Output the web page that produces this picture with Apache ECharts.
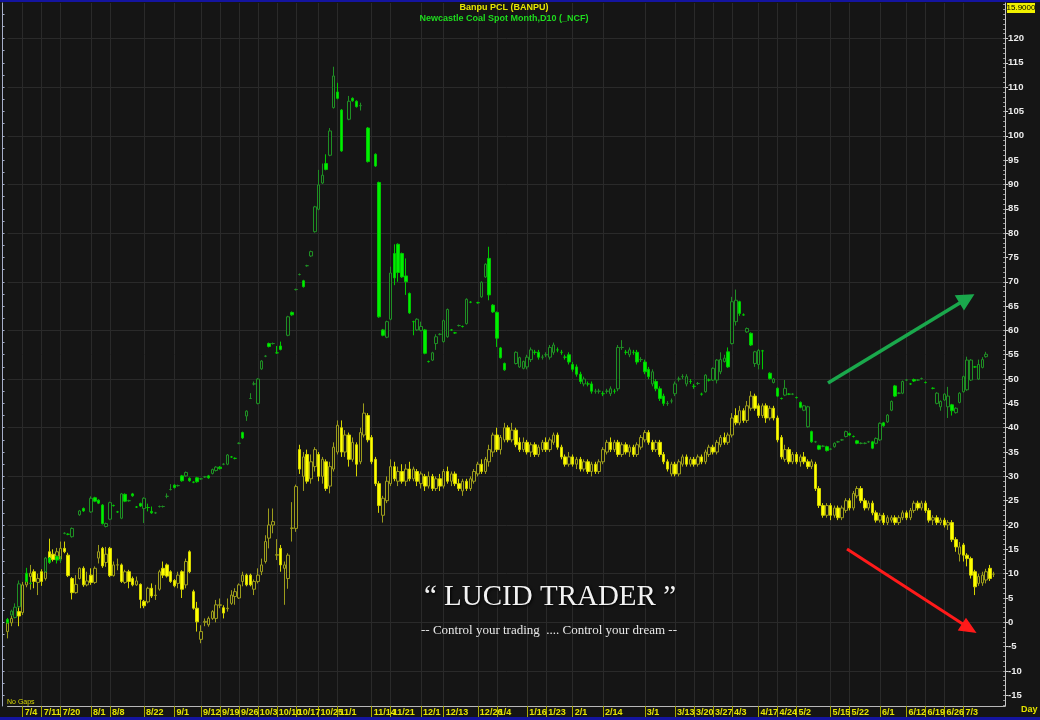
<!DOCTYPE html>
<html><head><meta charset="utf-8">
<script src="https://cdn.jsdelivr.net/npm/echarts@6/dist/echarts.min.js"></script>
<style>html,body{margin:0;padding:0;background:#151515;}#c{width:1040px;height:720px;}</style>
</head><body><div id="c"></div>
<script>
const dates = [
"2022-06-28","2022-06-29","2022-06-30","2022-07-01",
"2022-07-04","2022-07-05","2022-07-06","2022-07-07","2022-07-08",
"2022-07-11","2022-07-12","2022-07-15",
"2022-07-18","2022-07-19","2022-07-20","2022-07-21","2022-07-22",
"2022-07-25","2022-07-26","2022-07-27","2022-07-28","2022-07-29",
"2022-08-01","2022-08-02","2022-08-03","2022-08-04","2022-08-05",
"2022-08-08","2022-08-09","2022-08-10","2022-08-11",
"2022-08-15","2022-08-16","2022-08-17","2022-08-18","2022-08-19",
"2022-08-22","2022-08-23","2022-08-24","2022-08-25","2022-08-26",
"2022-08-29","2022-08-30","2022-08-31","2022-09-01","2022-09-02",
"2022-09-05","2022-09-06","2022-09-07","2022-09-08","2022-09-09",
"2022-09-12","2022-09-13","2022-09-14","2022-09-15","2022-09-16",
"2022-09-19","2022-09-20","2022-09-21","2022-09-22","2022-09-23",
"2022-09-26","2022-09-27","2022-09-28","2022-09-29","2022-09-30",
"2022-10-03","2022-10-04","2022-10-05","2022-10-06","2022-10-07",
"2022-10-10","2022-10-11","2022-10-12","2022-10-13","2022-10-14",
"2022-10-17","2022-10-18","2022-10-19","2022-10-20","2022-10-21",
"2022-10-24","2022-10-25","2022-10-26","2022-10-27","2022-10-28",
"2022-10-31","2022-11-01","2022-11-02","2022-11-03","2022-11-04",
"2022-11-07","2022-11-08","2022-11-09","2022-11-10","2022-11-11",
"2022-11-14","2022-11-15","2022-11-16","2022-11-17","2022-11-18",
"2022-11-21","2022-11-22","2022-11-23","2022-11-24","2022-11-25",
"2022-11-28","2022-11-29","2022-11-30","2022-12-01","2022-12-02",
"2022-12-06","2022-12-07","2022-12-08","2022-12-09",
"2022-12-13","2022-12-14","2022-12-15","2022-12-16",
"2022-12-19","2022-12-20","2022-12-21","2022-12-22","2022-12-23",
"2022-12-26","2022-12-27","2022-12-28","2022-12-29",
"2023-01-03","2023-01-04","2023-01-05","2023-01-06",
"2023-01-09","2023-01-10","2023-01-11","2023-01-12","2023-01-13",
"2023-01-16","2023-01-17","2023-01-18","2023-01-19","2023-01-20",
"2023-01-23","2023-01-24","2023-01-25","2023-01-26","2023-01-27",
"2023-01-30","2023-01-31","2023-02-01","2023-02-02","2023-02-03",
"2023-02-07","2023-02-08","2023-02-09","2023-02-10",
"2023-02-13","2023-02-14","2023-02-15","2023-02-16","2023-02-17",
"2023-02-20","2023-02-21","2023-02-22","2023-02-23","2023-02-24",
"2023-02-27","2023-02-28","2023-03-01","2023-03-02","2023-03-03",
"2023-03-06","2023-03-07","2023-03-08","2023-03-09","2023-03-10",
"2023-03-13","2023-03-14","2023-03-15","2023-03-16","2023-03-17",
"2023-03-20","2023-03-21","2023-03-22","2023-03-23","2023-03-24",
"2023-03-27","2023-03-28","2023-03-29","2023-03-30","2023-03-31",
"2023-04-03","2023-04-04","2023-04-05","2023-04-07",
"2023-04-10","2023-04-11","2023-04-12",
"2023-04-17","2023-04-18","2023-04-19","2023-04-20","2023-04-21",
"2023-04-24","2023-04-25","2023-04-26","2023-04-27","2023-04-28",
"2023-05-02","2023-05-03","2023-05-04","2023-05-05",
"2023-05-08","2023-05-09","2023-05-10","2023-05-11","2023-05-12",
"2023-05-15","2023-05-16","2023-05-17","2023-05-18","2023-05-19",
"2023-05-22","2023-05-23","2023-05-24","2023-05-25","2023-05-26",
"2023-05-29","2023-05-30","2023-05-31","2023-06-01","2023-06-02",
"2023-06-05","2023-06-06","2023-06-07","2023-06-08","2023-06-09",
"2023-06-12","2023-06-13","2023-06-14","2023-06-15","2023-06-16",
"2023-06-19","2023-06-20","2023-06-21","2023-06-22","2023-06-23",
"2023-06-26","2023-06-27","2023-06-28","2023-06-29","2023-06-30",
"2023-07-03","2023-07-04","2023-07-05","2023-07-06","2023-07-07",
"2023-07-10","2023-07-11","2023-07-12","2023-07-13","2023-07-14",
"2023-07-17","2023-07-18"
];

const tickDates = ["2022-07-04","2022-07-11","2022-07-20","2022-08-01","2022-08-08","2022-08-22","2022-09-01","2022-09-12","2022-09-19","2022-09-26","2022-10-03","2022-10-10","2022-10-17","2022-10-25","2022-11-01","2022-11-14","2022-11-21","2022-12-01","2022-12-13","2022-12-26","2023-01-04","2023-01-16","2023-01-23","2023-02-01","2023-02-14","2023-03-01","2023-03-13","2023-03-20","2023-03-27","2023-04-03","2023-04-17","2023-04-24","2023-05-02","2023-05-15","2023-05-22","2023-06-01","2023-06-12","2023-06-19","2023-06-26","2023-07-03"];

const yTickLabels = [-15,-10,-5,0,5,10,15,20,25,30,35,40,45,50,55,60,65,70,75,80,85,90,95,100,105,110,115,120];
const gridValues = [-10,0,10,20,30,40,50,60,70,80,90,100,110,120];

// Banpu PCL (BANPU) daily candles: [open, close, low, high]; null = no bar that day
const banpu = [
[-1.9,0.1,-3.3,0.8],[-0.1,0.8,-0.8,1.6],null,[2.2,1.3,-0.8,3.5],[2.0,7.7,1.5,8.3],
[7.7,8.4,7.2,9.5],[9.4,10.1,6.7,11.8],[10.4,8.4,7.0,10.9],[8.2,9.0,5.6,10.0],[10.4,8.4,7.5,10.9],
[9.0,12.8,8.6,13.3],[14.5,13.2,12.1,17.2],[14.0,12.9,12.5,15.0],[13.6,14.5,12.8,15.3],[13.0,15.2,12.6,16.6],
[15.2,14.5,14.2,16.6],[13.8,9.6,9.3,14.3],[9.0,6.1,4.7,9.3],[6.1,7.8,5.9,9.7],[9.0,11.1,8.8,11.3],
[11.1,7.7,7.3,11.5],[7.7,8.5,7.4,10.4],[9.7,8.2,7.7,11.1],[8.2,11.1,7.9,11.5],[13.2,14.5,12.1,15.9],
[15.2,11.6,11.2,15.5],[12.3,14.0,11.4,15.5],[15.2,9.6,9.3,15.5],[9.6,11.8,9.4,12.5],[11.8,11.8,10.7,13.1],
[11.8,8.4,8.1,12.1],[8.2,10.4,7.9,10.8],[10.4,8.4,7.0,10.8],[9.0,7.7,7.4,9.4],[7.7,8.5,7.5,9.4],
[7.8,4.7,2.9,8.0],[4.3,3.4,2.9,4.6],[4.2,7.0,3.9,7.3],[7.0,5.4,5.0,8.0],[5.5,5.6,4.6,7.7],
[6.8,10.4,6.5,10.8],[11.1,9.7,9.1,12.5],[11.8,9.5,9.2,12.1],[10.4,8.4,8.1,10.7],[8.6,7.5,7.2,8.9],
[8.0,9.7,7.0,10.4],[10.4,6.8,5.0,10.7],[7.7,12.5,7.0,13.1],[14.5,10.4,10.1,14.8],[6.3,2.9,2.6,6.7],
[2.9,0.1,-1.9,4.2],[-3.5,-1.9,-4.3,-0.6],[0.0,0.2,-0.8,0.8],[-0.5,0.8,-0.9,1.2],[0.8,2.2,0.5,2.5],
[0.8,3.6,0.0,4.6],[3.5,3.6,2.9,4.9],[3.0,1.9,0.8,3.5],[2.8,2.9,2.2,4.9],[3.9,5.6,3.6,6.6],
[5.3,6.3,3.6,7.0],[5.0,7.7,4.8,8.0],[8.4,9.7,7.4,10.4],[9.7,7.7,7.4,10.0],[9.7,7.7,7.4,10.0],
[6.8,8.4,5.6,8.8],[8.4,9.7,8.0,11.1],[10.4,11.8,9.7,13.1],[12.5,16.6,12.1,17.9],[17.3,20.0,15.2,23.4],
[20.0,20.7,18.3,23.4],[13.8,13.9,12.8,17.1],[15.2,11.8,10.4,15.9],[11.1,11.8,3.6,12.5],[9.0,13.8,6.9,14.2],
[19.3,19.4,16.6,24.7],[19.3,27.9,18.6,28.3],[35.5,31.5,30.5,36.5],[30.0,34.0,27.0,35.0],[34.5,29.0,28.5,35.5],
[29.5,33.0,28.5,34.5],[32.0,35.5,31.0,36.0],[34.5,30.0,29.0,35.0],[30.0,33.5,28.5,34.0],[33.0,27.5,27.0,33.5],
[28.0,32.0,26.5,33.0],[31.5,36.0,31.0,37.0],[35.0,40.5,34.5,41.5],[40.0,35.0,34.0,41.5],[35.0,38.5,34.0,39.5],
[38.5,33.5,32.0,39.0],[33.5,37.0,33.0,38.0],[36.5,32.5,30.0,37.0],[33.0,39.0,32.5,40.0],[38.5,43.0,38.0,45.0],
[42.5,37.5,37.0,43.0],[38.0,33.0,32.5,38.5],[33.5,28.5,28.0,34.0],[28.5,24.0,22.5,29.0],[22.0,25.5,20.5,26.0],
[25.0,29.0,24.5,30.0],[28.5,32.0,28.0,33.5],[32.0,29.5,29.0,33.0],[29.0,31.0,28.0,32.0],[31.0,29.0,28.5,32.5],
[29.0,31.5,28.0,32.5],[31.5,29.5,29.0,33.0],[29.5,31.5,29.0,32.0],[31.0,29.0,28.0,31.5],[28.5,30.5,27.5,31.0],
[30.0,28.0,27.0,30.5],[28.0,30.0,27.5,31.0],[30.0,27.5,27.0,30.5],[27.5,29.5,27.0,30.0],[29.5,28.0,27.0,30.5],
[28.0,31.0,27.5,31.5],[31.0,29.0,28.5,32.0],[29.0,30.5,28.0,31.0],[30.5,28.5,28.0,31.0],[28.5,27.5,27.0,29.5],
[27.0,29.0,26.0,29.5],[29.0,27.5,27.0,29.5],[27.5,29.5,27.0,30.0],[29.0,31.0,28.5,31.5],[30.5,32.5,30.0,33.0],
[32.5,31.0,30.5,33.5],[31.0,33.5,30.5,34.0],[33.0,35.5,32.0,36.5],[35.0,38.5,34.0,39.0],[38.5,35.5,35.0,40.0],
[35.5,38.0,34.5,38.5],[37.5,40.0,37.0,41.0],[40.0,37.5,37.0,40.5],[37.5,39.5,37.0,41.0],[39.5,36.5,36.0,40.0],
[37.0,35.5,35.0,38.0],[35.5,37.0,35.0,38.0],[37.0,35.0,34.5,37.5],[35.0,36.5,34.0,37.0],[36.5,34.5,34.0,37.0],
[34.5,36.0,34.0,36.5],[35.5,37.0,35.0,37.5],[37.0,35.5,35.0,38.0],[35.5,37.5,35.0,38.0],[37.0,38.5,36.5,39.0],
[38.5,36.0,35.5,39.0],[36.0,34.0,33.5,36.5],[34.0,32.5,32.0,34.5],[32.5,34.0,32.0,35.0],[34.0,32.5,32.0,34.5],
[32.5,33.5,31.5,34.0],[33.5,31.5,31.0,34.0],[31.5,33.0,31.0,33.5],[33.0,31.0,30.5,33.5],[31.0,32.5,30.0,33.0],
[32.5,31.0,30.5,33.0],[31.0,33.0,30.5,33.5],[33.0,35.5,32.5,36.0],[35.0,37.0,34.5,37.5],[37.0,35.5,35.0,38.0],
[35.5,37.0,35.0,37.5],[37.0,34.5,34.0,37.5],[34.5,36.5,34.0,37.0],[36.5,35.0,34.5,37.0],[35.0,36.0,34.0,36.5],
[36.0,34.5,34.0,36.5],[34.5,36.5,34.0,37.0],[36.0,38.0,35.5,38.5],[37.5,39.0,37.0,39.5],[39.0,37.0,36.5,39.5],
[37.0,35.5,35.0,37.5],[35.5,37.0,35.0,37.5],[37.0,34.5,34.0,37.5],[34.5,33.0,32.5,35.0],[33.0,31.5,31.0,33.5],
[30.5,32.5,30.0,33.0],[32.5,30.5,30.0,33.0],[30.5,33.0,30.0,33.5],[32.5,34.0,32.0,34.5],[34.0,32.5,32.0,34.5],
[32.5,33.5,32.0,34.0],[33.5,32.5,32.0,34.0],[32.5,34.0,32.0,34.5],[34.0,33.0,32.5,34.5],[33.0,35.0,32.5,35.5],
[34.5,36.0,34.0,36.5],[36.0,35.0,34.5,36.5],[35.0,37.0,34.5,37.5],[36.5,38.0,36.0,38.5],[38.0,37.0,36.5,39.0],
[37.0,38.5,36.5,39.0],[38.5,42.0,38.0,43.0],[42.5,41.0,40.5,44.0],[41.0,43.5,40.5,44.5],[43.5,41.5,41.0,44.0],
[41.5,44.5,41.0,45.5],[44.0,46.5,43.5,47.5],[46.5,44.0,43.5,47.0],[44.5,42.5,42.0,45.0],[42.5,44.5,42.0,45.0],
[44.5,42.0,41.0,45.0],[42.0,44.0,41.5,44.5],[44.0,42.0,41.5,44.5],[42.0,37.5,37.0,42.5],[38.0,34.0,33.5,38.5],
[33.5,35.5,33.0,36.5],[35.5,33.0,32.5,36.0],[33.0,34.5,32.5,35.0],[34.5,33.0,32.5,35.0],[33.0,34.0,32.0,34.5],
[34.0,33.0,32.5,35.0],[33.0,32.0,31.5,33.5],[32.0,33.0,31.5,33.5],[32.5,27.5,27.0,33.0],[27.5,24.0,23.5,28.0],
[24.0,22.0,21.5,24.5],[22.0,24.0,21.5,24.5],[24.0,22.0,21.0,24.5],[22.0,23.5,21.5,24.0],[23.5,21.5,21.0,24.0],
[21.5,23.5,21.0,24.0],[23.0,25.0,22.5,25.5],[25.0,23.5,23.0,25.5],[23.5,26.5,23.0,27.0],[26.0,27.5,25.5,28.0],
[27.5,25.0,24.5,28.0],[25.0,23.5,23.0,25.5],[23.5,24.5,23.0,25.0],[24.5,22.5,22.0,25.0],[22.5,21.0,20.5,23.0],
[21.0,22.0,20.5,22.5],[22.0,20.5,20.0,22.5],[20.5,21.5,20.0,22.0],[21.0,21.5,20.5,22.0],[21.5,20.5,20.0,22.0],
[20.5,21.5,20.0,22.0],[21.5,22.5,21.0,23.0],[22.5,21.5,21.0,23.0],[21.5,23.0,21.0,23.5],[23.0,24.5,22.5,25.0],
[24.5,23.5,23.0,25.0],[23.5,24.5,23.0,25.0],[24.5,23.0,22.5,25.0],[23.0,21.0,20.5,23.5],[21.0,21.5,20.0,22.0],
[21.5,20.5,20.0,22.0],[20.5,21.0,20.0,21.5],[21.0,20.0,19.5,21.5],[20.0,20.5,19.0,21.0],[20.5,17.0,16.5,21.0],
[17.0,15.5,14.5,17.5],[14.0,15.5,12.5,16.5],[15.9,13.8,12.5,16.3],[13.8,13.1,11.5,14.2],[13.1,9.7,9.0,13.5],
[10.4,7.3,5.6,10.8],[8.0,9.4,7.5,10.0],[8.1,9.7,7.5,10.4],[8.7,10.4,8.0,11.0],[11.1,9.0,8.5,11.8],
[9.9,9.9,9.3,10.4]
];

// Newcastle Coal Spot Month (_NCF) candles: [open, close, low, high]; null = no bar that day
const ncf = [
[0.6,-0.1,-0.3,0.9],[1.5,2.3,1.3,2.6],[1.0,3.1,0.8,3.9],[3.2,7.9,3.0,8.6],null,
[10.1,8.4,8.2,11.2],[8.0,8.0,7.8,8.2],null,null,null,
[10.4,13.2,10.2,13.4],[13.2,12.3,12.1,13.4],null,[13.5,12.8,12.1,13.7],[12.8,12.8,12.2,13.6],
[18.3,18.3,18.1,18.5],[18.1,18.1,17.9,18.3],[17.6,19.3,17.4,19.5],null,[22.1,22.9,21.9,23.1],
[23.4,22.9,22.7,23.6],null,[22.7,25.5,22.5,25.9],[25.6,24.9,24.7,25.8],[25.1,24.5,24.3,25.3],
[24.1,20.3,20.1,24.3],[19.7,20.3,19.5,20.5],[21.2,24.6,21.0,24.8],[24.0,24.0,23.8,24.2],[22.7,22.7,22.5,22.9],
[21.4,26.4,21.2,26.6],[26.3,24.9,24.7,26.5],[25.0,25.0,24.8,25.2],[26.4,26.0,25.8,26.6],[23.7,23.7,23.5,23.9],
[24.4,23.9,23.7,24.6],[23.4,25.5,20.4,25.7],[23.6,23.6,22.8,24.4],[22.8,22.5,22.3,23.8],[22.5,22.5,22.3,22.7],
[23.8,23.8,23.6,24.0],[23.8,23.8,23.6,24.0],[25.9,25.9,25.5,26.5],[27.3,27.3,27.1,28.4],[28.2,27.7,27.5,28.4],
[28.1,28.1,27.9,28.3],[30.1,29.1,28.9,30.3],[30.1,30.8,29.9,31.0],[29.6,29.1,28.9,29.8],[28.8,28.8,28.6,29.0],
[29.7,28.9,28.7,29.9],[29.5,29.5,29.3,29.7],[29.9,29.9,29.7,30.1],[30.1,29.7,29.5,30.3],[30.6,31.4,30.4,31.6],
[31.2,31.9,31.0,32.1],[31.9,31.6,31.4,32.1],[32.5,32.5,32.3,32.7],[32.5,34.4,32.3,34.6],[34.0,34.0,33.8,34.2],
[33.7,33.7,33.5,33.9],[36.8,36.8,36.6,37.0],[39.0,37.9,37.7,39.2],[42.4,43.4,41.4,43.6],[46.0,46.0,46.0,47.1],
[49.0,49.0,48.7,49.5],[45.0,50.0,44.8,50.2],[52.1,53.7,51.9,53.9],[54.7,54.7,54.5,54.9],[57.3,56.7,56.5,57.5],
[57.3,57.3,57.1,57.5],[55.4,55.4,55.2,56.8],[56.8,56.1,55.9,57.7],null,[59.0,62.8,58.8,63.0],
[63.7,63.2,63.0,63.9],[68.4,68.4,68.2,68.6],[71.5,71.5,71.3,71.7],[70.2,69.0,68.8,70.4],[73.3,73.3,73.1,73.5],
[75.3,76.2,75.1,76.4],[80.3,85.4,80.1,85.6],[84.9,89.9,84.7,93.0],[90.3,91.9,90.1,94.3],[94.3,93.1,92.9,96.2],
[96.0,101.0,95.8,101.6],[105.8,112.3,105.6,114.2],[109.0,107.7,107.5,110.9],[105.3,96.9,96.7,105.5],null,
[103.4,107.1,103.2,108.2],[107.7,107.2,107.0,107.9],[107.1,106.0,105.8,107.3],[106.2,106.2,105.2,106.8],null,
[101.6,94.7,94.5,101.8],null,[96.2,93.8,93.6,96.4],[90.4,62.8,62.6,90.6],[60.1,59.0,58.8,60.3],
[58.6,61.8,58.4,62.0],[62.3,71.8,62.1,73.1],[75.8,70.8,69.3,77.7],[77.7,71.9,70.0,77.9],[75.8,71.0,70.8,76.0],
[71.2,70.0,67.3,74.8],[67.6,63.6,63.4,67.8],[61.8,61.8,59.0,62.0],[60.1,62.3,59.9,62.5],[60.0,60.8,59.8,61.8],
[60.1,55.3,55.1,60.3],[53.6,53.6,53.4,53.8],[53.9,55.4,53.7,55.6],[57.3,58.7,56.0,59.2],[59.2,59.2,59.0,59.4],
[57.7,62.0,57.5,62.2],[58.7,64.3,58.5,64.5],[60.1,60.1,59.9,60.3],[59.5,59.5,59.3,59.7],[61.0,61.0,60.8,61.2],
[60.8,60.8,60.6,61.0],[61.4,66.4,61.2,66.6],[65.8,65.8,65.6,66.0],null,[65.7,65.7,65.5,65.9],
[66.9,69.9,66.7,70.1],[71.0,73.6,70.8,73.8],[74.8,67.3,66.2,77.2],[65.2,63.8,63.6,65.4],[63.7,58.4,56.6,63.9],
[56.4,54.4,54.2,56.6],[53.2,51.9,51.7,53.4],null,null,[53.2,55.5,53.0,55.7],
[52.5,54.4,52.3,54.6],[52.2,53.6,52.0,53.8],[52.5,54.5,52.0,55.0],[54.0,56.0,53.5,56.5],[55.5,55.5,55.0,56.0],
[55.5,54.5,54.0,56.0],[54.5,54.5,54.0,55.0],[55.0,55.0,54.5,55.5],[54.5,56.5,54.0,57.0],[55.5,57.0,55.0,57.5],
[56.0,56.0,55.5,56.5],[55.5,55.5,55.0,56.0],[54.5,54.5,54.0,55.0],[55.0,53.5,53.0,55.5],[53.0,52.0,51.5,53.5],
[52.5,51.0,50.5,53.0],[51.0,49.5,49.0,51.5],[49.0,50.0,48.5,50.5],[49.0,49.0,48.5,49.5],[49.0,47.5,47.0,49.5],
[47.5,47.5,47.0,48.0],[47.5,47.5,47.0,48.0],[47.0,47.0,46.5,47.5],[47.5,47.5,47.0,48.0],[47.0,48.0,46.5,48.5],
[47.5,47.5,47.0,48.0],[48.0,56.5,47.5,57.0],[56.5,56.5,56.0,58.0],[55.5,55.5,55.0,56.0],[55.0,56.0,54.5,56.5],
[55.5,55.5,55.0,56.0],[55.5,53.5,53.0,56.0],[54.0,54.0,53.5,54.5],[53.5,51.5,51.0,54.0],[52.0,50.5,50.0,52.5],
[49.0,51.5,48.5,52.0],[49.5,48.0,47.5,50.0],[48.0,46.0,45.5,48.5],[46.5,45.0,44.5,47.0],[45.0,45.0,44.5,45.5],
[45.5,45.5,45.0,46.0],[47.0,49.0,46.5,49.5],[50.0,50.0,49.5,50.5],[50.5,50.5,50.0,51.0],[49.0,50.5,48.5,51.0],
[49.5,49.5,49.0,50.0],[48.5,48.5,48.0,49.0],[49.1,49.1,48.8,49.4],[46.9,46.9,46.6,47.2],[47.4,50.8,47.2,51.0],
[49.8,49.8,49.5,50.1],[49.8,52.2,49.6,52.4],[49.8,53.9,49.1,54.1],[51.5,54.0,51.0,55.5],[53.6,54.3,53.4,55.0],
[55.6,52.5,52.3,56.5],[57.3,65.9,57.1,66.9],[61.8,66.2,61.0,68.4],[65.9,63.5,63.0,66.1],[63.2,63.2,63.0,63.5],
[59.7,60.4,59.5,60.6],[59.4,57.0,56.8,59.6],[53.2,55.6,52.5,55.8],[53.0,55.9,52.0,56.2],[55.8,55.8,52.0,56.0],
null,[51.2,50.1,49.9,51.4],[49.3,50.0,49.1,50.2],[48.1,46.5,46.3,48.3],[46.0,46.0,45.8,46.2],
[46.7,48.1,46.5,49.8],[46.9,46.9,46.7,47.1],[46.9,46.9,46.7,47.1],[46.2,46.2,46.0,46.4],[45.2,44.2,44.0,45.4],
[43.6,44.5,43.4,44.7],[40.2,44.3,40.0,44.5],[39.2,37.1,36.9,39.4],[37.1,37.1,36.9,37.3],[36.3,35.6,35.4,36.5],
[36.2,36.2,36.0,36.4],[36.1,35.3,35.1,36.3],[35.6,35.6,35.4,35.8],[36.1,36.8,35.9,37.0],[37.1,37.1,36.9,37.3],
[37.5,37.5,37.3,37.7],[38.2,39.2,38.0,39.4],[38.8,38.5,38.3,39.0],[38.2,38.2,38.0,38.4],[37.3,36.8,36.6,37.5],
[36.8,36.8,36.6,37.0],[36.8,36.8,36.6,37.0],[37.1,37.1,36.9,37.3],[37.1,35.8,35.6,37.3],[36.8,37.8,36.6,38.0],
[37.5,40.9,37.3,41.1],[41.0,40.4,40.2,41.2],[41.2,42.6,41.0,42.8],[43.6,45.4,43.4,45.6],[48.6,46.5,46.3,48.8],
[47.1,47.1,46.9,47.3],[47.1,49.5,46.9,49.7],[49.8,49.8,49.6,50.0],[49.0,49.0,48.8,49.2],[49.9,49.6,49.4,50.1],
[49.8,49.8,49.6,50.0],[50.1,50.1,49.9,50.3],[49.3,49.3,49.1,49.5],null,[48.1,48.1,47.9,48.3],
[45.0,47.1,44.8,47.3],[44.3,45.4,43.5,45.6],[45.7,46.9,45.5,47.1],[44.3,46.5,42.0,48.4],[44.7,43.5,42.5,44.9],
[43.1,44.0,42.9,44.2],[45.2,47.1,45.0,47.3],[47.4,50.5,47.2,50.7],[47.8,53.9,47.6,54.6],[49.8,53.9,49.6,54.1],
[52.5,52.5,52.3,52.7],[50.0,53.0,49.8,54.0],[52.4,54.0,52.2,54.5],[54.6,55.1,54.4,55.6]
];

const FONT = '"Liberation Sans Narrow","Arial Narrow","Liberation Sans",sans-serif';
const EMPTY = ['-', '-', '-', '-'];
const tickSet = new Set(tickDates);
const isTick = (i, v) => tickSet.has(v);
const fmtDate = v => { const p = String(v).split('-'); return (+p[1]) + '/' + (+p[2]); };
const yMin = -17.2, yMax = 127.3;
const ones = []; for (let v = -17; v <= 127; v++) ones.push(v);
const halfFives = []; for (let v = -15; v <= 125; v += 2.5) halfFives.push(v);

const chart = echarts.init(document.getElementById('c'), null, {renderer: 'canvas'});
chart.setOption({
  backgroundColor: '#151515',
  animation: false,
  grid: {left: 7.53, right: 34.9, top: 3, bottom: 14},
  xAxis: {
    type: 'category', data: dates, boundaryGap: false,
    axisLine: {onZero: false, lineStyle: {color: '#b8b8b8', width: 1}},
    axisTick: {show: true, interval: isTick, length: 11, lineStyle: {color: '#a8a800'}},
    axisLabel: {interval: isTick, formatter: fmtDate, color: '#e4e400', fontFamily: FONT, fontSize: 9, fontWeight: 'bold', align: 'left', margin: 2, padding: [0, 0, 0, 2]},
    splitLine: {show: true, interval: isTick, lineStyle: {color: '#2a2a2a', width: 1}}
  },
  yAxis: [
    {type: 'value', position: 'right', min: yMin, max: yMax,
     axisLine: {show: true, lineStyle: {color: '#c8c8c8'}},
     axisTick: {show: true, customValues: yTickLabels, length: 3, lineStyle: {color: '#d0d0d0'}},
     axisLabel: {customValues: yTickLabels, color: '#ececec', fontFamily: FONT, fontSize: 9.5, fontWeight: 'bold', margin: 3},
     splitLine: {show: false}},
    {type: 'value', position: 'right', min: yMin, max: yMax,
     axisLine: {show: false},
     axisTick: {show: true, customValues: ones, inside: true, length: 2, lineStyle: {color: '#9a9a9a'}},
     axisLabel: {show: false}, splitLine: {show: false}},
    {type: 'value', position: 'left', offset: 5, min: yMin, max: yMax,
     axisLine: {show: true, lineStyle: {color: '#a6aec8'}},
     axisTick: {show: true, customValues: halfFives, inside: true, length: 2, lineStyle: {color: '#a6aec8'}},
     axisLabel: {show: false}, splitLine: {show: false}},
    {type: 'value', position: 'right', min: yMin, max: yMax,
     axisLine: {show: false},
     axisTick: {show: false, customValues: gridValues},
     axisLabel: {show: false},
     splitLine: {show: true, lineStyle: {color: '#2a2a2a', width: 1}}}
  ],
  series: [
    {name: 'Banpu PCL (BANPU)', type: 'candlestick', data: banpu.map(d => d || EMPTY), barWidth: 3,
     itemStyle: {color: '#151515', color0: '#ffff00', borderColor: '#9c9c1c', borderColor0: '#d6d600', borderWidth: 1}},
    {name: 'Newcastle Coal Spot Month,D10 (_NCF)', type: 'candlestick', data: ncf.map(d => d || EMPTY), barWidth: 3,
     itemStyle: {color: '#151515', color0: '#00f000', borderColor: '#1f8f24', borderColor0: '#00c800', borderWidth: 1}}
  ],
  graphic: [
    {type: 'rect', z: 100, left: 0, top: 0, shape: {width: 1040, height: 2}, style: {fill: '#1414a0'}, silent: true},
    {type: 'rect', z: 100, left: 0, top: 717, shape: {width: 1040, height: 3}, style: {fill: '#1414a0'}, silent: true},
    {type: 'text', z: 100, x: 504, y: 8, style: {text: 'Banpu PCL (BANPU)', fill: '#e6e600', font: 'bold 9px ' + FONT, align: 'center', verticalAlign: 'middle'}},
    {type: 'text', z: 100, x: 504, y: 19, style: {text: 'Newcastle Coal Spot Month,D10 (_NCF)', fill: '#1edc1e', font: 'bold 9px ' + FONT, align: 'center', verticalAlign: 'middle'}},
    {type: 'rect', z: 100, left: 1007, top: 3, shape: {width: 28, height: 10}, style: {fill: '#f0f000'}},
    {type: 'text', z: 101, x: 1021, y: 8, style: {text: '15.9000', fill: '#000000', font: '8px ' + FONT, align: 'center', verticalAlign: 'middle'}},
    {type: 'text', z: 100, x: 7, y: 702, style: {text: 'No Gaps', fill: '#d8d800', font: '7px ' + FONT, align: 'left', verticalAlign: 'middle'}},
    {type: 'text', z: 100, x: 1021, y: 710, style: {text: 'Day', fill: '#e4e400', font: 'bold 9px ' + FONT, align: 'left', verticalAlign: 'middle'}},
    {type: 'text', z: 100, x: 550, y: 597, style: {text: '\u201C LUCID TRADER \u201D', fill: '#f2f2f2', font: '29px "Liberation Serif","DejaVu Serif",serif', align: 'center', verticalAlign: 'middle', textShadowColor: '#000', textShadowBlur: 3, textShadowOffsetX: 1, textShadowOffsetY: 1}},
    {type: 'text', z: 100, x: 549, y: 631, style: {text: '-- Control your trading  .... Control your dream --', fill: '#e8e8e8', font: '13px "Liberation Serif","DejaVu Serif",serif', align: 'center', verticalAlign: 'middle'}},
    {type: 'line', z: 100, shape: {x1: 828, y1: 383, x2: 968, y2: 298}, style: {stroke: '#1aa84c', lineWidth: 3.5}},
    {type: 'polygon', z: 100, shape: {points: [[973, 295], [956, 296], [964, 309]]}, style: {fill: '#1aa84c', stroke: '#1aa84c', lineWidth: 1.5}},
    {type: 'line', z: 100, shape: {x1: 847, y1: 549, x2: 969, y2: 628}, style: {stroke: '#ff1a1a', lineWidth: 3}},
    {type: 'polygon', z: 100, shape: {points: [[975, 632], [959, 630], [966, 619]]}, style: {fill: '#ff1a1a', stroke: '#ff1a1a', lineWidth: 1.5}}
  ]
});
</script></body></html>
